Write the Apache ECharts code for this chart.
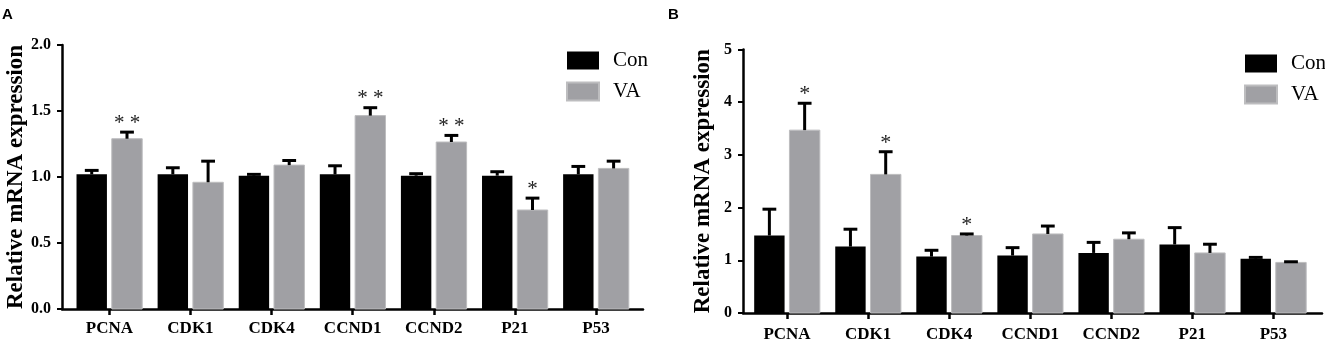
<!DOCTYPE html>
<html>
<head>
<meta charset="utf-8">
<script src="https://cdn.jsdelivr.net/npm/echarts@6/dist/echarts.min.js"></script>
<style>
html, body { margin: 0; padding: 0; background: #fff; }
#main { width: 1325px; height: 345px; }
</style>
</head>
<body>
<div id="main"></div>
<script>
// genes on the x axis (both panels)
var genes = ['PCNA', 'CDK1', 'CDK4', 'CCND1', 'CCND2', 'P21', 'P53'];

// panel A
var conA    = [1.02, 1.02, 1.01, 1.02, 1.01, 1.01, 1.02];
var conErrA = [0.03, 0.05, 0.01, 0.065, 0.015, 0.03, 0.06];
var vaA     = [1.29, 0.96, 1.09, 1.465, 1.265, 0.75, 1.065];
var vaErrA  = [0.05, 0.16, 0.035, 0.06, 0.05, 0.09, 0.055];
var sigA    = ['**', '', '', '**', '**', '*', ''];

// panel B
var conB    = [1.47, 1.26, 1.07, 1.09, 1.14, 1.30, 1.03];
var conErrB = [0.50, 0.33, 0.12, 0.15, 0.20, 0.32, 0.025];
var vaB     = [3.47, 2.63, 1.47, 1.50, 1.40, 1.14, 0.96];
var vaErrB  = [0.51, 0.43, 0.03, 0.15, 0.12, 0.165, 0.012];
var sigB    = ['*', '*', '*', '', '', '', ''];

var SERIF = '"Liberation Serif", "Times New Roman", serif';
var SANS = '"Liberation Sans", Arial, sans-serif';
var tickIdx = genes.map(function (g, k) { return k; });

function toData(vals, errs) {
    return vals.map(function (v, k) { return [k, v, errs[k]]; });
}

// bar + upper error bar, side -1 = left bar (Con), 1 = right bar (VA)
function barRenderer(side) {
    return function (params, api) {
        var i = api.value(0), v = api.value(1), e = api.value(2);
        var base = api.coord([i, 0]);
        var top = api.coord([i, v]);
        var cap = api.coord([i, v + e]);
        var band = api.size([1, 0])[0];
        var w = band * 0.375, gap = band * 0.06;
        var x0 = side < 0 ? base[0] - gap / 2 - w : base[0] + gap / 2;
        var cx = x0 + w / 2, half = band * 0.085;
        return {
            type: 'group',
            children: [
                { type: 'rect', shape: { x: x0, y: top[1], width: w, height: base[1] - top[1] }, style: api.style() },
                { type: 'line', shape: { x1: cx, y1: top[1], x2: cx, y2: cap[1] }, style: { stroke: '#000', lineWidth: 3 } },
                { type: 'line', shape: { x1: cx - half, y1: cap[1], x2: cx + half, y2: cap[1] }, style: { stroke: '#000', lineWidth: 3 } }
            ]
        };
    };
}

function starRenderer(sig, size, lift) {
    return function (params, api) {
        var i = api.value(0);
        var s = sig[i];
        if (!s) return null;
        var base = api.coord([i, 0]);
        var cap = api.coord([i, api.value(1) + api.value(2)]);
        var band = api.size([1, 0])[0];
        var cx = base[0] + band * 0.03 + band * 0.1875;
        return {
            type: 'text',
            style: {
                text: s.split('').join(' '),
                x: cx, y: cap[1] - lift,
                align: 'center', verticalAlign: 'middle',
                font: size + 'px ' + SERIF,
                fill: '#222'
            }
        };
    };
}

function makeYAxis(grid, max, interval, digits, gap) {
    return {
        type: 'value', gridIndex: grid, min: 0, max: max, interval: interval,
        name: 'Relative mRNA expression', nameLocation: 'middle', nameGap: gap,
        nameTextStyle: { fontFamily: SERIF, fontWeight: 'bold', fontSize: 23, color: '#000' },
        axisLine: { show: true, onZero: false, lineStyle: { color: '#000', width: 2.5 } },
        axisTick: { show: true, length: 5, lineStyle: { color: '#000', width: 2 } },
        axisLabel: {
            fontFamily: SERIF, fontWeight: 'bold', fontSize: 16, color: '#000', margin: 11,
            formatter: function (v) { return v.toFixed(digits); }
        },
        splitLine: { show: false }
    };
}

function makeXAxis(grid, min, max, margin) {
    return {
        type: 'value', gridIndex: grid, min: min, max: max,
        axisLine: { show: true, onZero: false, lineStyle: { color: '#000', width: 2.5 } },
        axisTick: { show: true, customValues: tickIdx, length: 6, lineStyle: { color: '#000', width: 2.5 } },
        axisLabel: {
            customValues: tickIdx, margin: margin,
            fontFamily: SERIF, fontWeight: 'bold', fontSize: 17, color: '#000',
            formatter: function (v) { return genes[Math.round(v)]; }
        },
        splitLine: { show: false }
    };
}

function legendAt(left, top) {
    return {
        left: left, top: top, orient: 'vertical', icon: 'rect',
        itemWidth: 32, itemHeight: 18, itemGap: 10, selectedMode: false,
        data: ['Con', 'VA'],
        textStyle: { fontFamily: SERIF, fontSize: 21, color: '#000', lineHeight: 18, padding: [0, 0, 0, 9] }
    };
}

var conStyle = { color: '#000000' };
var vaStyle = { color: '#a0a0a4', borderColor: '#bdbdbf', borderWidth: 1 };

var chart = echarts.init(document.getElementById('main'));
chart.setOption({
    animation: false,
    title: [
        { text: 'A', left: 2, top: 7, padding: 0, textStyle: { fontFamily: SANS, fontWeight: 'bold', fontSize: 15, color: '#000' } },
        { text: 'B', left: 668, top: 7, padding: 0, textStyle: { fontFamily: SANS, fontWeight: 'bold', fontSize: 15, color: '#000' } }
    ],
    legend: [legendAt(561, 45), legendAt(1239, 48)],
    grid: [
        { left: 62, top: 45, width: 581, height: 264 },
        { left: 743, top: 49.5, width: 579, height: 263.5 }
    ],
    xAxis: [makeXAxis(0, -0.584, 6.58, 11), makeXAxis(1, -0.543, 6.6, 13)],
    yAxis: [makeYAxis(0, 2, 0.5, 1, 34), makeYAxis(1, 5, 1, 0, 28)],
    series: [
        { type: 'custom', name: 'Con', xAxisIndex: 0, yAxisIndex: 0, itemStyle: conStyle, data: toData(conA, conErrA), renderItem: barRenderer(-1), encode: { x: 0, y: 1 } },
        { type: 'custom', name: 'VA', xAxisIndex: 0, yAxisIndex: 0, itemStyle: vaStyle, data: toData(vaA, vaErrA), renderItem: barRenderer(1), encode: { x: 0, y: 1 } },
        { type: 'custom', name: 'sigA', xAxisIndex: 0, yAxisIndex: 0, data: toData(vaA, vaErrA), renderItem: starRenderer(sigA, 21, 9), encode: { x: 0, y: 1 }, silent: true },
        { type: 'custom', name: 'Con', xAxisIndex: 1, yAxisIndex: 1, itemStyle: conStyle, data: toData(conB, conErrB), renderItem: barRenderer(-1), encode: { x: 0, y: 1 } },
        { type: 'custom', name: 'VA', xAxisIndex: 1, yAxisIndex: 1, itemStyle: vaStyle, data: toData(vaB, vaErrB), renderItem: barRenderer(1), encode: { x: 0, y: 1 } },
        { type: 'custom', name: 'sigB', xAxisIndex: 1, yAxisIndex: 1, data: toData(vaB, vaErrB), renderItem: starRenderer(sigB, 22, 9), encode: { x: 0, y: 1 }, silent: true }
    ]
});
</script>
</body>
</html>
